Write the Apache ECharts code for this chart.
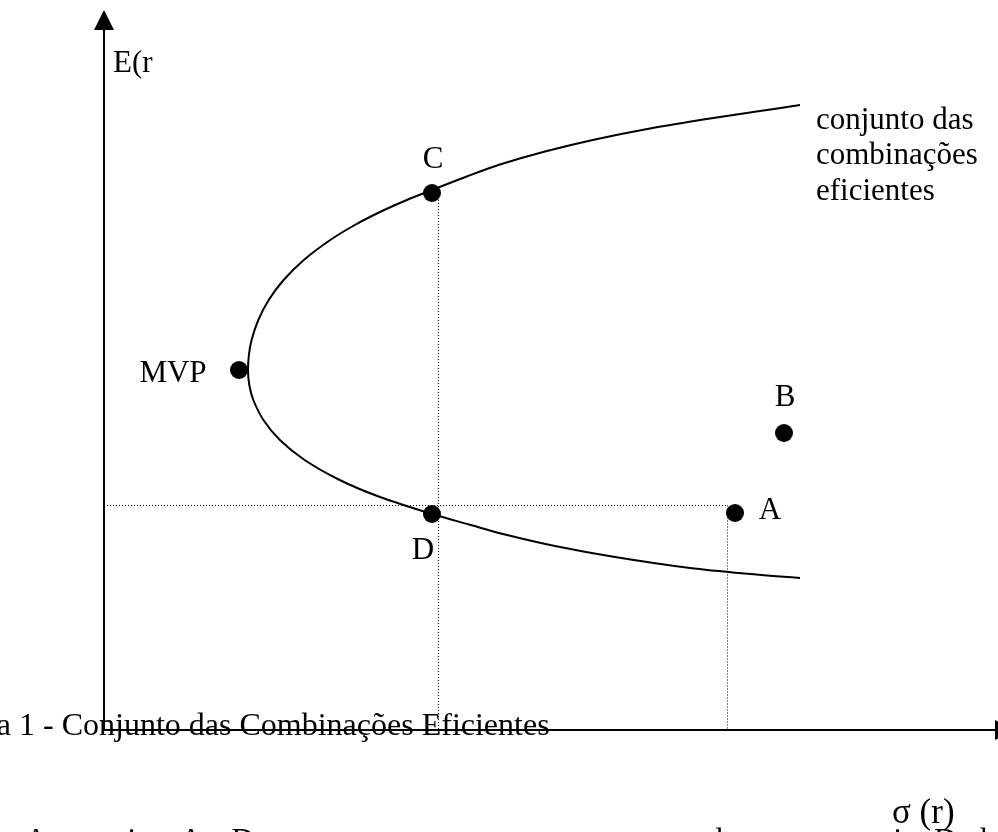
<!DOCTYPE html>
<html><head><meta charset="utf-8">
<script src="https://cdn.jsdelivr.net/npm/echarts@6/dist/echarts.min.js"></script>
<style>html,body{margin:0;padding:0;background:#fff;overflow:hidden}#c{width:998px;height:832px}</style>
</head><body><div id="c"></div>
<script>
// Frontier curve (sigma, expected return): top end -> vertex -> bottom end
const frontierSigma  = [696,656,606,546,491,441,396,364,328,302.8,276,250.8,226.2,199.8,179.6,164.7,154.3,147.6,144.9,144,145.3,149.3,159.4,175.9,200.6,235.7,276,328,365,399,451,511,586,646,696];
const frontierReturn = [625,619,611.5,601.5,590.5,578.5,565.5,554,540,530,518,505,490,470,450,430,410,390,375,360,345,330,310,290,270,250,233,216,205.5,196,184,173,162,156,152];
// Marked portfolios
const pointNames  = ['MVP','C','D','A','B'];
const pointSigma  = [135,328,328,631,680];
const pointReturn = [360,537,216,217,297];
// Dotted guide lines (start, end)
const guideSigma  = [[0,623.5],[334.5,334.5],[623.5,623.5]];
const guideReturn = [[224.5,224.5],[530,0],[224.5,0]];
// Texts
const yAxisTitle = 'E(r';
const xAxisTitle = 'σ (r)';
const curveNote = ['conjunto das','combinações','eficientes'];
const caption = 'Figura 1 - Conjunto das Combinações Eficientes';
const bodyText = 'As carteiras A e D apresentam o mesmo retorno esperado, mas a carteira D, de fronteira eficiente, não tem o mesmo risco; as carteiras não são';

const FONT = '"Liberation Serif","Times New Roman",serif';
const labelOffsets = {MVP:[-66,4], C:[1,-33], D:[-9,37], A:[35,-2], B:[1,-35]};

const chart = echarts.init(document.getElementById('c'), null, {renderer:'canvas'});
const txt = (s, x, y, size) => ({type:'text', x:x, y:y, z:50, style:{text:s, font:(size||31)+'px '+FONT, fill:'#000', align:'left', verticalAlign:'middle'}});

const guideSeries = guideSigma.map((xs, i) => ({
  type:'line', data:[[xs[0], guideReturn[i][0]],[xs[1], guideReturn[i][1]]],
  showSymbol:false, silent:true, animation:false,
  lineStyle:{color:'#000', width:1, type:[1,2]}
}));

const axisStyle = {color:'#000', width:2};

chart.setOption({
  animation:false,
  backgroundColor:'#fff',
  grid:{left:104, top:20, width:891, height:710, containLabel:false},
  xAxis:{type:'value', min:0, max:891,
    axisLine:{show:true, onZero:false, symbol:['none','triangle'], symbolSize:[20,20], symbolOffset:[0,10], lineStyle:axisStyle},
    axisTick:{show:false}, axisLabel:{show:false}, splitLine:{show:false}},
  yAxis:{type:'value', min:0, max:710,
    axisLine:{show:true, onZero:false, symbol:['none','triangle'], symbolSize:[20,20], symbolOffset:[0,0], lineStyle:axisStyle},
    axisTick:{show:false}, axisLabel:{show:false}, splitLine:{show:false}},
  series:[
    ...guideSeries,
    {type:'line', data:frontierSigma.map((s,i)=>[s, frontierReturn[i]]), smooth:0.3, showSymbol:false, silent:true,
     lineStyle:{color:'#000', width:2}, z:3},
    {type:'scatter', symbol:'circle', symbolSize:18, z:5,
     itemStyle:{color:'#000', opacity:1},
     data:pointNames.map((n,i)=>({name:n, value:[pointSigma[i], pointReturn[i]],
       label:{show:true, position:'inside', offset:labelOffsets[n], formatter:'{b}', color:'#000',
              fontFamily:FONT, fontSize:31, align:'center', verticalAlign:'middle'}}))}
  ],
  graphic:[
    txt(yAxisTitle, 113, 64),
    txt(xAxisTitle, 892, 814, 35),
    ...curveNote.map((s,i)=>txt(s, 816, [121,156,192][i])),
    txt(caption, -72.5, 727, 32),
    txt(bodyText, 25, 842)
  ]
});
</script></body></html>
